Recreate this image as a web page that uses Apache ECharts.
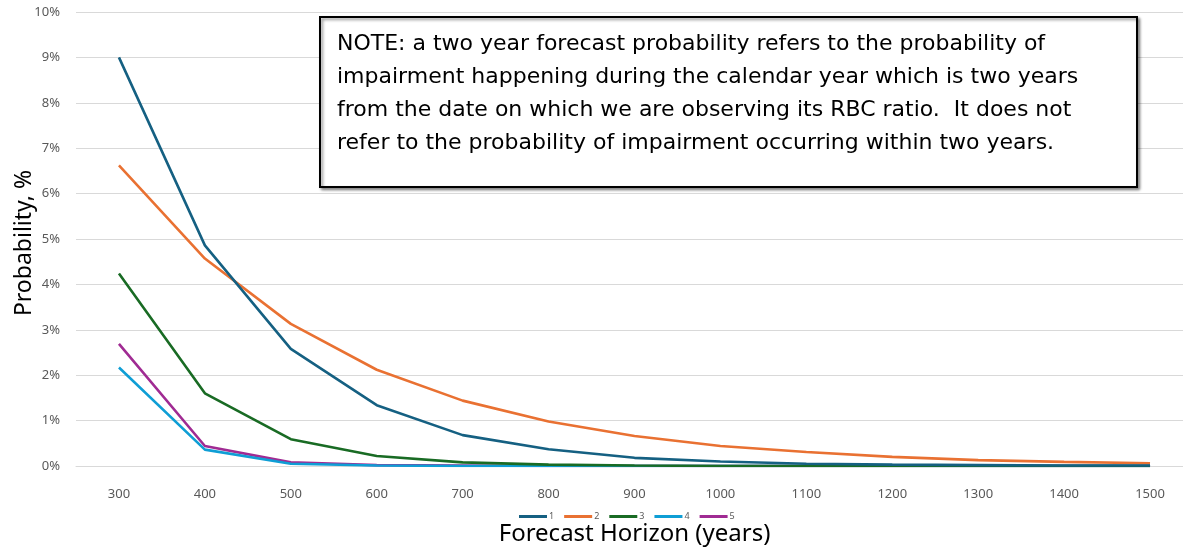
<!DOCTYPE html>
<html>
<head>
<meta charset="utf-8">
<script src="https://cdn.jsdelivr.net/npm/echarts@6/dist/echarts.min.js"></script>
<style>
  html, body { margin: 0; padding: 0; background: #fff; }
  #chart { width: 1183px; height: 548px; }
</style>
</head>
<body>
<div id="chart"></div>
<script>
// forecast horizon categories
const horizons = ['300', '400', '500', '600', '700', '800', '900', '1000', '1100', '1200', '1300', '1400', '1500']

// probability, % (one array per forecast year)
const year1 = [9.0, 4.86, 2.58, 1.34, 0.68, 0.37, 0.18, 0.1, 0.05, 0.03, 0.02, 0.01, 0.01]
const year2 = [6.62, 4.57, 3.13, 2.12, 1.44, 0.98, 0.66, 0.44, 0.31, 0.2, 0.13, 0.09, 0.06]
const year3 = [4.24, 1.6, 0.59, 0.22, 0.08, 0.03, 0.01, 0, 0, 0, 0, 0, 0]
const year4 = [2.17, 0.36, 0.05, 0.01, 0, 0, 0, 0, 0, 0, 0, 0, 0]
const year5 = [2.69, 0.44, 0.08, 0.02, 0.01, 0, 0, 0, 0, 0, 0, 0, 0]

const seriesNames = ['1', '2', '3', '4', '5']
const seriesData = [year1, year2, year3, year4, year5]
const colors = ['#156082', '#E97132', '#196B24', '#0F9ED5', '#A02B93']

const noteLines = [
  'NOTE: a two year forecast probability refers to the probability of',
  'impairment happening during the calendar year which is two years',
  'from the date on which we are observing its RBC ratio.  It does not',
  'refer to the probability of impairment occurring within two years.'
]

const chart = echarts.init(document.getElementById('chart'))

const option = {
  animation: false,
  color: colors,
  textStyle: { fontFamily: 'Noto Sans' },
  grid: { left: 76, right: -10, top: 12, bottom: 82, outerBoundsMode: 'none', containLabel: false },
  legend: {
    data: seriesNames,
    bottom: 22,
    left: 514,
    itemWidth: 28,
    itemHeight: 3,
    itemGap: 10,
    icon: 'rect',
    textStyle: { fontSize: 9, color: '#595959', padding: [0, 0, 0, -3] }
  },
  xAxis: {
    type: 'category',
    data: horizons,
    boundaryGap: true,
    name: 'Forecast Horizon (years)',
    nameLocation: 'middle',
    nameGap: 56,
    nameTextStyle: { fontSize: 24, color: '#000' },
    axisLine: { lineStyle: { color: '#d9d9d9', width: 1 } },
    axisTick: { show: false },
    axisLabel: { color: '#595959', fontSize: 13, margin: 22 }
  },
  yAxis: {
    type: 'value',
    min: 0,
    max: 10,
    interval: 1,
    axisLine: { show: false },
    axisTick: { show: false },
    axisLabel: { color: '#595959', fontSize: 13, margin: 16, formatter: '{value}%' },
    splitLine: { lineStyle: { color: '#d9d9d9', width: 1 } }
  },
  series: seriesData.map((d, i) => ({
    name: seriesNames[i],
    type: 'line',
    data: d,
    symbol: 'none',
    lineStyle: { width: 2.6 },
    z: 10 - i
  })),
  graphic: [
    // y axis title
    {
      type: 'text',
      x: 24,
      y: 243,
      rotation: Math.PI / 2,
      style: {
        text: 'Probability, %',
        fontFamily: 'Noto Sans',
        fontSize: 23,
        fill: '#000',
        align: 'center',
        verticalAlign: 'middle'
      }
    },
    // note box
    {
      type: 'rect',
      left: 319,
      top: 16,
      shape: { width: 817, height: 170 },
      style: {
        fill: '#fff',
        stroke: '#000',
        lineWidth: 2,
        shadowBlur: 3,
        shadowOffsetX: 2,
        shadowOffsetY: 2,
        shadowColor: 'rgba(0,0,0,0.45)'
      },
      z: 100
    },
    {
      type: 'text',
      left: 337,
      top: 28,
      style: {
        text: noteLines.join('\n'),
        fontFamily: 'DejaVu Sans',
        fontSize: 22,
        lineHeight: 33,
        fill: '#000'
      },
      z: 101
    }
  ]
}

chart.setOption(option)
</script>
</body>
</html>
